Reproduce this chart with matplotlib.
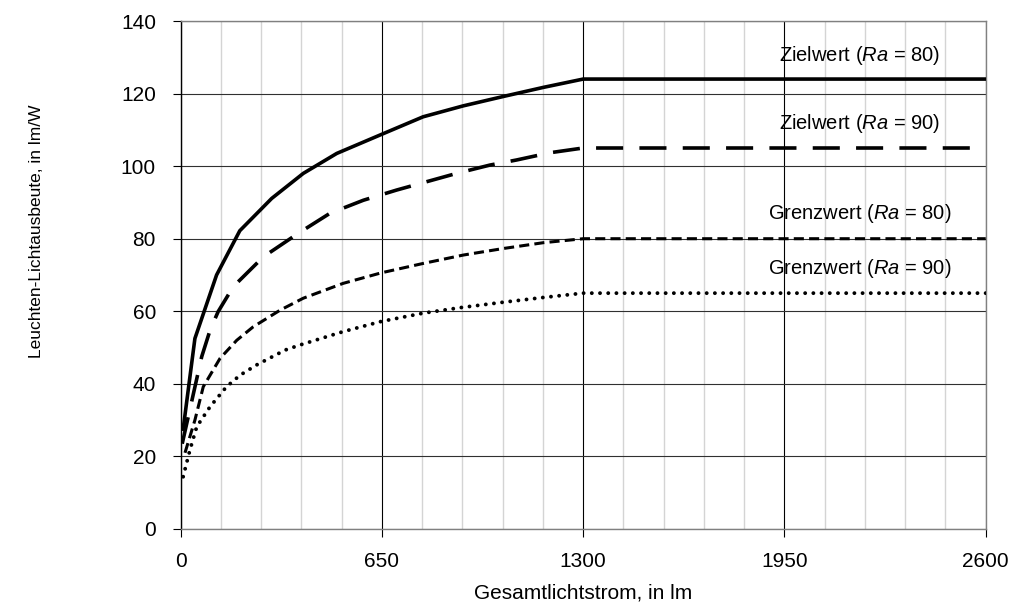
import numpy as np
import matplotlib
matplotlib.use('Agg')
import matplotlib.pyplot as plt
from matplotlib.ticker import MultipleLocator

plt.rcParams['font.family'] = ['Liberation Sans', 'DejaVu Sans']
plt.rcParams['mathtext.fontset'] = 'custom'
plt.rcParams['mathtext.it'] = 'Liberation Sans:italic'
plt.rcParams['mathtext.rm'] = 'Liberation Sans'

# Data (Gesamtlichtstrom in lm, Lichtausbeute in lm/W)
ziel80_x = [8, 46, 116, 191, 294, 396, 504, 650, 783, 912, 1042, 1171, 1300, 2600]
ziel80_y = [27.5, 52.5, 70, 82.2, 91.1, 98, 103.5, 108.8, 113.6, 116.6, 119.2, 121.7, 124, 124]

ziel90_x = [5, 68, 95, 121, 170, 267, 380, 482, 590, 697, 891, 999, 1085, 1193, 1300, 2600]
ziel90_y = [23.5, 47.5, 54.8, 59.9, 66.8, 75, 81.5, 87, 90.6, 93.4, 98, 100.3, 101.7, 103.7, 105, 105]

grenz80_x = [14, 46, 73, 127, 181, 234, 321, 396, 525, 648, 784, 913, 1042, 1171, 1300, 2600]
grenz80_y = [21, 30, 39.2, 47, 52, 55.7, 60.3, 63.6, 67.7, 70.6, 73.2, 75.5, 77.3, 78.9, 80, 80]

grenz90_x = [8, 30, 52, 95, 148, 192, 245, 337, 385, 525, 648, 784, 903, 1042, 1171, 1300, 2600]
grenz90_y = [14.4, 21.8, 28.2, 33.7, 39.2, 42.4, 45.2, 49.3, 50.7, 54.4, 57.2, 59.5, 61, 62.5, 63.8, 65, 65]

labels = ['Zielwert ($Ra$ = 80)', 'Zielwert ($Ra$ = 90)',
          'Grenzwert ($Ra$ = 80)', 'Grenzwert ($Ra$ = 90)']
label_y = [130.4, 111.8, 87.0, 71.8]

fig = plt.figure(figsize=(10.3, 6.09), dpi=100)
ax = fig.add_axes([0.1754, 0.1314, 0.7816, 0.8341])

# grid
ax.set_xlim(0, 2600)
ax.set_ylim(0, 140)
ax.xaxis.set_major_locator(MultipleLocator(650))
ax.xaxis.set_minor_locator(MultipleLocator(130))
ax.yaxis.set_major_locator(MultipleLocator(20))
ax.grid(which='minor', axis='x', color='#d4d4d4', lw=1.0, zorder=0)
ax.grid(which='major', axis='x', color='black', lw=0.8, zorder=1)
ax.grid(which='major', axis='y', color='#303030', lw=0.8, zorder=1)
ax.tick_params(which='minor', length=0)
ax.tick_params(which='major', length=5.8, width=0.8, direction='out', labelsize=15)
ax.tick_params(axis='y', pad=12)
ax.tick_params(axis='x', pad=10.5)

ax.spines['left'].set_color('black')
ax.spines['bottom'].set_color('#808080')
ax.spines['top'].set_color('#808080')
ax.spines['right'].set_color('#808080')
for s in ax.spines.values():
    s.set_linewidth(1.0)

# curves
ax.plot(ziel80_x, ziel80_y, color='black', lw=2.6, solid_joinstyle='round', zorder=3)
ax.plot(ziel90_x, ziel90_y, color='black', lw=2.6, dashes=(7.5, 4.5), zorder=3)
ax.plot(grenz80_x, grenz80_y, color='black', lw=2.2, dashes=(3.3, 1.7), zorder=3)
ax.plot(grenz90_x, grenz90_y, color='black', lw=2.8, dashes=(0.01, 2.1),
        dash_capstyle='round', zorder=3)

for txt, yy in zip(labels, label_y):
    ax.text(2193, yy, txt, ha='center', va='center', fontsize=14.5, zorder=4)

ax.set_xlabel('Gesamtlichtstrom, in lm', fontsize=15)
ax.xaxis.set_label_coords(0.5, -0.108)
fig.text(0.035, 0.621, 'Leuchten-Lichtausbeute, in lm/W', rotation=90,
         ha='center', va='center', fontsize=12.5)

fig.savefig('out.png', dpi=100)
